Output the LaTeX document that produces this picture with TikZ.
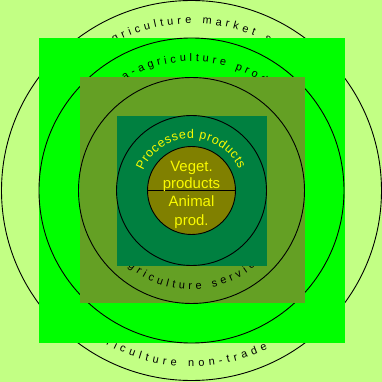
\documentclass[tikz,border=0pt]{standalone}
\usepackage{fontspec}
\setmainfont{Liberation Sans}
\usetikzlibrary{decorations.text}
\definecolor{bgc}{RGB}{194,255,132}
\definecolor{brightg}{RGB}{0,255,0}
\definecolor{oliveg}{RGB}{100,160,36}
\definecolor{darkg}{RGB}{0,128,64}
\definecolor{innerc}{RGB}{128,128,0}
\definecolor{txtyel}{RGB}{250,250,0}
\newcommand{\ringfont}{\fontsize{11}{13}\selectfont}
\newcommand{\procfont}{\fontsize{12.5}{14}\selectfont}
\tikzset{
  ring/.style={draw=black, line width=0.9bp},
  ringtext/.style={decorate, decoration={text along path, text align={fit to path}, text color=black}},
  innertext/.style={text=txtyel, font=\fontsize{15}{17}\selectfont, anchor=base, inner sep=0pt},
}
\begin{document}
\begin{tikzpicture}[x=1bp,y=1bp]
\useasboundingbox (0,0) rectangle (382,382);
\fill[bgc] (0,0) rectangle (382,382);
\coordinate (C) at (191.5,191.5);
% outer ring
\draw[ring] (C) circle[radius=190];
\path[ringtext, decoration={text={|\ringfont|griculture market s}}]
  (C) ++(117.7:167) arc[start angle=117.7, end angle=62.4, radius=167];
\path[ringtext, decoration={text={|\ringfont|griculture non-trade}}]
  (C) ++(237.5:176) arc[start angle=237.5, end angle=295.6, radius=176];
% second ring
\fill[brightg] (39,39) rectangle (345,344);
\draw[ring] (C) circle[radius=152.5];
\path[ringtext, decoration={text={|\ringfont|a-agriculture prod}}]
  (C) ++(121.3:129) arc[start angle=121.3, end angle=55.7, radius=129];
% third ring
\fill[oliveg] (80,79) rectangle (305,305);
\draw[ring] (C) circle[radius=113];
\path[ringtext, decoration={text={|\ringfont|griculture servic}}]
  (C) ++(230:99) arc[start angle=230, end angle=310, radius=99];
% fourth ring
\fill[darkg] (117,116) rectangle (267,266);
\draw[ring] (C) circle[radius=75];
\path[ringtext, decoration={text={|\procfont|Processed products}, text color=txtyel}]
  (C) ++(158:52) arc[start angle=158, end angle=24, radius=52];
% inner circle
\filldraw[fill=innerc, ring] (C) circle[radius=44];
\path (C) +(180:44) coordinate (dl) +(0:44) coordinate (dr);
\draw[ring] (dl) -- (dr);
\node[innertext] (veget) at (191.5,211) {Veget.};
\node[innertext] (vprod) at (191.5,193.5) {products};
\node[innertext] (anim) at (191.5,175.3) {Animal};
\node[innertext] (aprod) at (191.5,157) {prod.};
\end{tikzpicture}
\end{document}
